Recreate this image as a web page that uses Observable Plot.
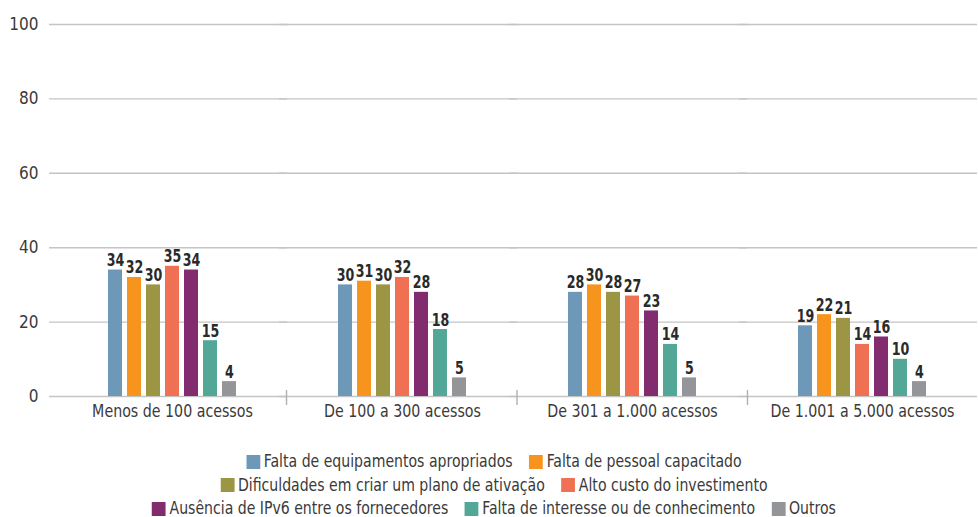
<!DOCTYPE html>
<html>
<head>
<meta charset="utf-8">
<script src="https://cdn.jsdelivr.net/npm/d3@7"></script>
<script src="https://cdn.jsdelivr.net/npm/@observablehq/plot@0.6"></script>
<style>
  html, body { margin: 0; padding: 0; background: #fff; }
  body { width: 978px; font-family: "DejaVu Sans Condensed", "Liberation Sans Narrow", sans-serif; }
  #legend { display: flex; flex-direction: column; align-items: center; gap: 4px; margin-top: 22px; font-size: 17px; color: #3a3a3a; transform: translateX(5px) scaleX(0.92); transform-origin: 489px 0; }
  .row { display: flex; gap: 18px; line-height: 19.5px; }
  .item { display: flex; align-items: center; gap: 4px; white-space: nowrap; }
  .sw { width: 15px; height: 14px; display: inline-block; }
</style>
</head>
<body>
<div id="chart"></div>
<div id="legend"></div>
<script>
const groups = ["Menos de 100 acessos", "De 100 a 300 acessos", "De 301 a 1.000 acessos", "De 1.001 a 5.000 acessos"];
const series = [
  "Falta de equipamentos apropriados",
  "Falta de pessoal capacitado",
  "Dificuldades em criar um plano de ativação",
  "Alto custo do investimento",
  "Ausência de IPv6 entre os fornecedores",
  "Falta de interesse ou de conhecimento",
  "Outros"
];
const colors = ["#6e98b8", "#f7941d", "#9c9543", "#f07053", "#832b6f", "#53a797", "#939598"];
const valEquip = [34, 30, 28, 19];
const valPessoal = [32, 31, 30, 22];
const valDificuldades = [30, 30, 28, 21];
const valCusto = [35, 32, 27, 14];
const valIPv6 = [34, 28, 23, 16];
const valInteresse = [15, 18, 14, 10];
const valOutros = [4, 5, 5, 4];
const yTicks = [0, 20, 40, 60, 80, 100];
const legendRows = [[0, 1], [2, 3], [4, 5, 6]];

const seriesValues = [valEquip, valPessoal, valDificuldades, valCusto, valIPv6, valInteresse, valOutros];
const data = [];
groups.forEach((g, gi) => series.forEach((s, si) => data.push({group: g, series: s, value: seriesValues[si][gi]})));

const font = '"DejaVu Sans Condensed", "Liberation Sans Narrow", sans-serif';

const plot = Plot.plot({
  width: 978,
  height: 430,
  marginLeft: 56,
  marginRight: 0,
  marginTop: 24,
  marginBottom: 34,
  style: {fontFamily: font, fontSize: "17px", color: "#3a3a3a", background: "#fff"},
  fx: {domain: groups, padding: 0, label: null},
  x: {domain: series, paddingInner: 0.24, paddingOuter: 2.47, axis: null},
  y: {domain: [0, 100], label: null},
  color: {domain: series, range: colors},
  marks: [
    Plot.ruleY(yTicks, {stroke: "#c4c4c4", strokeWidth: 1.4, insetLeft: -8}),
    Plot.axisY({ticks: yTicks, tickSize: 0, tickPadding: 19, label: null, fill: "#3a3a3a"}),
    Plot.axisFx({anchor: "bottom", tickSize: 0, tickPadding: 8, label: null, fill: "#3a3a3a"}),
    Plot.barY(data, {fx: "group", x: "series", y: "value", fill: "series"}),
    Plot.text(data, {fx: "group", x: "series", y: "value", text: d => String(d.value), lineAnchor: "bottom", dy: -4, fontWeight: "bold", fontSize: 18, fill: "#2a2a2a"})
  ]
});
document.getElementById("chart").appendChild(plot);

// horizontally condense text (about its own anchor) to mimic the condensed face of the original
function squeeze(nodes, s) {
  nodes.each(function() {
    const b = this.getBBox();
    const ax = b.x + b.width / 2;
    const old = this.getAttribute("transform") || "";
    this.setAttribute("transform", `${old} translate(${ax},0) scale(${s},1) translate(${-ax},0)`);
  });
}
const svg = d3.select(plot);
squeeze(svg.selectAll('g[aria-label="text"] text'), 0.78);
squeeze(svg.selectAll('g[aria-label="fx-axis tick label"] text'), 0.93);

// group separators at facet band boundaries, from Plot's own scales
const fxs = plot.scale("fx");
const ys = plot.scale("y");
const band = d3.scaleBand().domain(fxs.domain).range(fxs.range)
  .paddingInner(fxs.paddingInner ?? 0).paddingOuter(fxs.paddingOuter ?? 0);
const y0 = ys.apply(0);
const sep = svg.append("g").attr("stroke", "#b0b0b0").attr("stroke-width", 1.4);
fxs.domain.slice(1).forEach(g => {
  const xb = band(g);
  sep.append("line").attr("x1", xb).attr("x2", xb).attr("y1", y0 - 6).attr("y2", y0 + 9);
});

// legend
const legend = document.getElementById("legend");
legendRows.forEach(row => {
  const r = document.createElement("div");
  r.className = "row";
  row.forEach(i => {
    const it = document.createElement("span");
    it.className = "item";
    const sw = document.createElement("span");
    sw.className = "sw";
    sw.style.background = colors[i];
    const t = document.createElement("span");
    t.textContent = series[i];
    it.appendChild(sw); it.appendChild(t);
    r.appendChild(it);
  });
  legend.appendChild(r);
});
</script>
</body>
</html>
